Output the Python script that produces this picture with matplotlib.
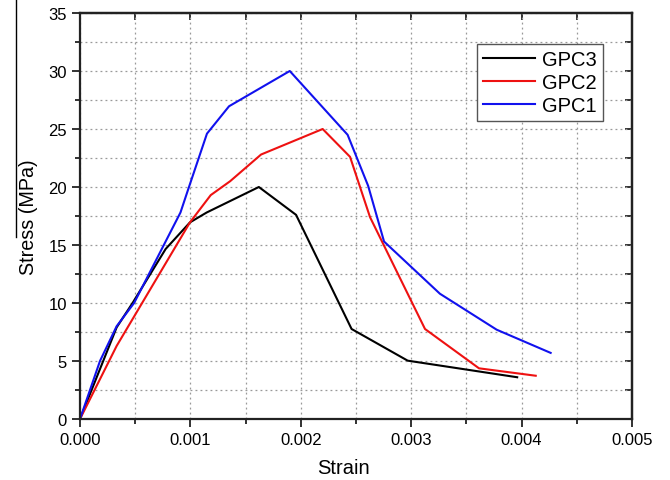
import matplotlib
matplotlib.use("Agg")
import matplotlib.pyplot as plt
from matplotlib.ticker import MultipleLocator, FormatStrFormatter
from matplotlib.lines import Line2D

plt.rcParams['font.family'] = ['Liberation Sans', 'DejaVu Sans']

# GPC3 (black)
gpc3_strain = [0.0, 0.000332, 0.00048, 0.000776, 0.000996, 0.001147, 0.00162, 0.001957, 0.00246, 0.002968, 0.00396]
gpc3_stress = [0.0, 7.9, 10.06, 14.66, 16.95, 17.8, 20.0, 17.6, 7.76, 5.03, 3.6]

# GPC2 (red)
gpc2_strain = [0.0, 0.000332, 0.000996, 0.001184, 0.00136, 0.00164, 0.002198, 0.002446, 0.002627, 0.003125, 0.003614, 0.004128]
gpc2_stress = [0.0, 6.3, 16.95, 19.3, 20.5, 22.8, 25.0, 22.6, 17.4, 7.76, 4.37, 3.73]

# GPC1 (blue)
gpc1_strain = [0.0, 0.000181, 0.000332, 0.00049, 0.00091, 0.00098, 0.00115, 0.00135, 0.0019, 0.002424, 0.00261, 0.002754, 0.00326, 0.003774, 0.004263]
gpc1_stress = [0.0, 5.0, 8.0, 10.0, 17.8, 19.8, 24.6, 26.96, 30.0, 24.5, 20.1, 15.3, 10.8, 7.7, 5.7]

fig = plt.figure(figsize=(6.70, 4.81), dpi=100)
ax = fig.add_axes([0.1194, 0.1268, 0.8239, 0.8441])

ax.plot(gpc3_strain, gpc3_stress, color='black', lw=1.5, label='GPC3')
ax.plot(gpc2_strain, gpc2_stress, color='#ee1111', lw=1.5, label='GPC2')
ax.plot(gpc1_strain, gpc1_stress, color='#1111ee', lw=1.5, label='GPC1')

ax.set_xlim(0, 0.005)
ax.set_ylim(0, 35)
ax.xaxis.set_major_locator(MultipleLocator(0.001))
ax.xaxis.set_minor_locator(MultipleLocator(0.0005))
ax.yaxis.set_major_locator(MultipleLocator(5))
ax.yaxis.set_minor_locator(MultipleLocator(2.5))
ax.xaxis.set_major_formatter(FormatStrFormatter('%.3f'))

ax.grid(True, which='both', color='#999999', linestyle=(0, (1.5, 2.5)), lw=0.9)
ax.set_axisbelow(True)

for s in ax.spines.values():
    s.set_linewidth(1.6)
    s.set_color('#222222')

ax.tick_params(axis='both', which='major', direction='out', length=6, width=1.3,
               labelsize=12, colors='#222222', labelcolor='black')
ax.tick_params(axis='both', which='minor', direction='out', length=3.5, width=1.3, colors='#222222')

secx = ax.secondary_xaxis('top')
secx.xaxis.set_major_locator(MultipleLocator(0.0005))
secx.tick_params(direction='in', length=5, width=1.3, labeltop=False, colors='#222222')
secx.spines['top'].set_linewidth(1.6)
secy = ax.secondary_yaxis('right')
secy.yaxis.set_major_locator(MultipleLocator(2.5))
secy.tick_params(direction='in', length=5, width=1.3, labelright=False, colors='#222222')
secy.spines['right'].set_linewidth(1.6)

ax.set_xlabel('Strain', fontsize=14.5)
ax.set_ylabel('Stress (MPa)', fontsize=14.2)
ax.xaxis.set_label_coords(0.478, -0.096)
ax.yaxis.set_label_coords(-0.076, 0.5)

leg = ax.legend(loc='upper right', bbox_to_anchor=(0.9475, 0.9236), fontsize=14.5,
                fancybox=False, framealpha=1, edgecolor='#555555', borderaxespad=0,
                handlelength=2.6, borderpad=0.3, labelspacing=0.2, handletextpad=0.35)
leg.get_frame().set_linewidth(1.0)

# thin vertical border line at the left edge of the picture
fig.add_artist(Line2D([16 / 670, 16 / 670], [1.0, 1 - 238 / 481], color='black', lw=1.0))

fig.savefig('out.png', dpi=100)
